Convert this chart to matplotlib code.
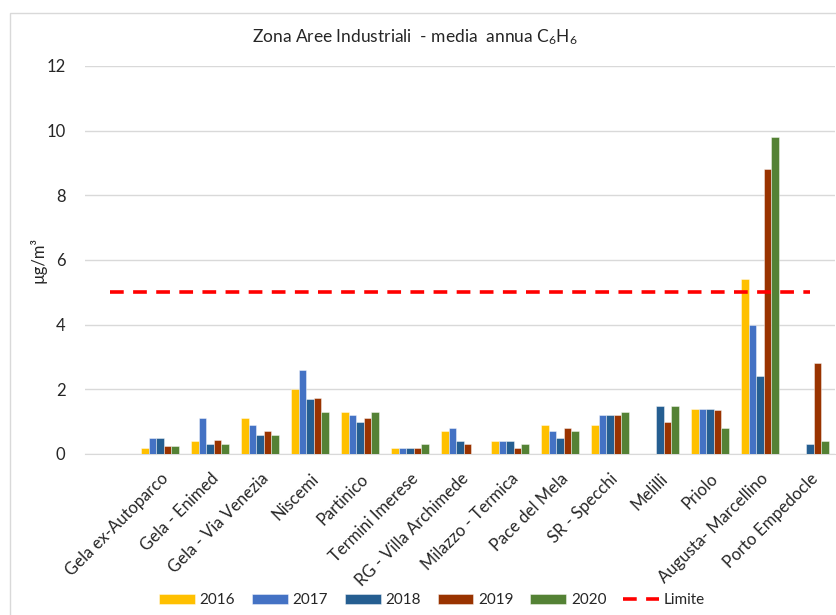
import numpy as np
import matplotlib
matplotlib.use("Agg")
import matplotlib.pyplot as plt
from matplotlib.patches import Rectangle

plt.rcParams['font.family'] = ['Lato', 'DejaVu Sans']
plt.rcParams['mathtext.fontset'] = 'custom'
plt.rcParams['mathtext.rm'] = 'Lato'
plt.rcParams['mathtext.it'] = 'Lato'

stations = ["Gela ex-Autoparco", "Gela - Enimed", "Gela - Via Venezia", "Niscemi",
            "Partinico", "Termini Imerese", "RG - Villa Archimede", "Milazzo - Termica",
            "Pace del Mela", "SR - Specchi", "Melilli", "Priolo",
            "Augusta- Marcellino", "Porto Empedocle"]
years = ["2016", "2017", "2018", "2019", "2020"]

nan = np.nan
v2016 = [0.2, 0.4, 1.1, 2.0, 1.3, 0.2, 0.7, 0.4, 0.9, 0.9, nan, 1.4, 5.4, nan]
v2017 = [0.5, 1.1, 0.9, 2.6, 1.2, 0.2, 0.8, 0.4, 0.7, 1.2, nan, 1.4, 4.0, nan]
v2018 = [0.5, 0.3, 0.6, 1.7, 1.0, 0.2, 0.4, 0.4, 0.5, 1.2, 1.5, 1.4, 2.4, 0.3]
v2019 = [0.25, 0.42, 0.7, 1.73, 1.1, 0.2, 0.3, 0.2, 0.8, 1.2, 1.0, 1.35, 8.8, 2.8]
v2020 = [0.25, 0.32, 0.6, 1.3, 1.3, 0.3, nan, 0.3, 0.7, 1.3, 1.5, 0.8, 9.8, 0.4]
limite = 5

series = [v2016, v2017, v2018, v2019, v2020]
colors = ["#FFC000", "#4472C4", "#255E91", "#993300", "#548235"]

fig = plt.figure(figsize=(8.36, 6.15), dpi=100)
ax = fig.add_axes([85 / 836, 1 - 454 / 615, 750 / 836, 388 / 615])

x = np.arange(len(stations))
w = 0.152
handles = []
for i, (vals, c, yr) in enumerate(zip(series, colors, years)):
    b = ax.bar(x + (i - 2) * w, vals, w, color=c, label=yr,
               edgecolor=(1, 1, 1, 0.6), linewidth=0.5, zorder=3)
    handles.append(b)

# limit line spans from the blank first category to the last one
ln, = ax.plot([-1, len(stations) - 1], [limite, limite], color="#FF0000", lw=2.6,
              dashes=(3.8, 2.6), label="Limite", zorder=4)
handles.append(ln)

ax.set_xlim(-1.5, len(stations) - 0.5)
ax.set_ylim(0, 12)
ax.set_yticks(range(0, 13, 2))
ax.yaxis.grid(True, color="#D9D9D9", lw=1)
ax.set_axisbelow(True)
for s in ["top", "right", "left"]:
    ax.spines[s].set_visible(False)
ax.spines["bottom"].set_color("#D9D9D9")
ax.tick_params(axis="both", length=0, labelsize=12, colors="#262626")
ax.tick_params(axis="y", pad=14)
ax.tick_params(axis="x", pad=12)
ax.set_xticks(x)
ax.set_xticklabels(stations, rotation=45, ha="right", rotation_mode="anchor")

ax.set_ylabel("µg/m³", fontsize=12, color="#262626", labelpad=0)

fig.text(415 / 836, 1 - 37 / 615,
         r"Zona Aree Industriali  - media  annua C$_\mathrm{6}$H$_\mathrm{6}$",
         ha="center", va="center", fontsize=12.5, color="#262626")

leg = fig.legend(handles=handles, loc="center", bbox_to_anchor=(432 / 836, 1 - 600 / 615),
                 ncol=6, frameon=False, fontsize=11, handlelength=2.35, handleheight=0.65,
                 columnspacing=1.1, handletextpad=0.3)
for t in leg.get_texts():
    t.set_color("#262626")

# chart border (only top/left visible inside the crop)
fig.patches.append(Rectangle((10 / 836, -0.1), 1.2, 1 - 13 / 615 + 0.1,
                             transform=fig.transFigure, fill=False,
                             edgecolor="#D9D9D9", lw=1, clip_on=False))

fig.savefig("out.png", dpi=100)
